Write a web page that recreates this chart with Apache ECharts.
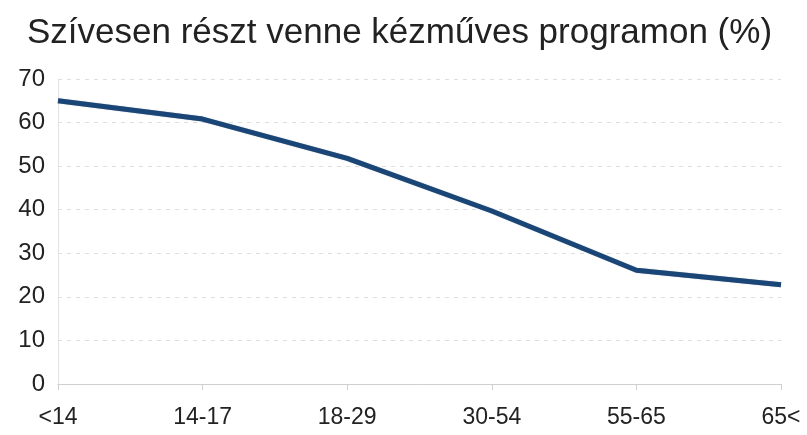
<!DOCTYPE html>
<html>
<head>
    <meta charset="utf-8">
    <title>Kézműves program</title>
    <script type="text/javascript" src="https://cdn.jsdelivr.net/npm/echarts@6/dist/echarts.min.js"></script>
</head>
<body style="margin:0;background:#fff;">
    <div id="main" style="width:807px;height:435px;"></div>
    <script type="text/javascript">
        // korosztályok és arányok (%)
        var categories = ['<14', '14-17', '18-29', '30-54', '55-65', '65<'];
        var values = [65, 60.8, 51.8, 39.7, 26.1, 22.8];
        var yTicks = [0, 10, 20, 30, 40, 50, 60, 70];

        var myChart = echarts.init(document.getElementById('main'));

        var option = {
            backgroundColor: '#ffffff',
            title: {
                text: 'Szívesen részt venne kézműves programon (%)',
                left: 22,
                top: 11,
                padding: 5,
                textStyle: {
                    fontFamily: 'Liberation Sans',
                    fontSize: 35,
                    fontWeight: 'normal',
                    color: '#222'
                }
            },
            grid: { left: 58, right: 26, top: 79, bottom: 51 },
            xAxis: {
                type: 'category',
                data: categories,
                boundaryGap: false,
                axisLine: { show: true, lineStyle: { color: '#cfcfcf', width: 1 } },
                axisTick: { show: true, length: 6, lineStyle: { color: '#d0d0d0' } },
                axisLabel: {
                    fontFamily: 'Liberation Sans',
                    fontSize: 23,
                    color: '#222',
                    margin: 22
                },
                splitLine: { show: false }
            },
            yAxis: {
                type: 'value',
                min: yTicks[0],
                max: yTicks[yTicks.length - 1],
                interval: 10,
                axisLine: { show: true, lineStyle: { color: '#e2e2e2', width: 1 } },
                axisTick: { show: false },
                axisLabel: {
                    fontFamily: 'Liberation Sans',
                    fontSize: 24,
                    color: '#222',
                    margin: 13
                },
                splitLine: { show: true, lineStyle: { color: '#dedede', type: [4, 5], width: 1 } }
            },
            series: [
                {
                    type: 'line',
                    data: values,
                    symbol: 'none',
                    lineStyle: {
                        color: '#1a4677',
                        width: 5,
                        shadowColor: 'rgba(10,30,60,0.4)',
                        shadowBlur: 1
                    },
                    animation: false
                }
            ]
        };

        myChart.setOption(option);
    </script>
</body>
</html>
